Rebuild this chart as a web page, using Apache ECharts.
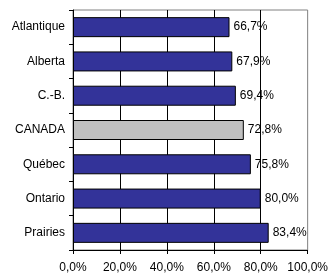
<!DOCTYPE html>
<html>
<head>
<meta charset="utf-8">
<script src="https://cdn.jsdelivr.net/npm/echarts@6/dist/echarts.min.js"></script>
<style>html,body{margin:0;padding:0;background:#fff}#c{width:331px;height:275px}</style>
</head>
<body>
<div id="c"></div>
<script>
const categories = ['Atlantique', 'Alberta', 'C.-B.', 'CANADA', 'Québec', 'Ontario', 'Prairies'];
const values = [66.7, 67.9, 69.4, 72.8, 75.8, 80.0, 83.4];
const highlight = 'CANADA';

const fmt = v => v.toFixed(1).replace('.', ',') + '%';
const font = 'Liberation Sans, Arial, sans-serif';

const chart = echarts.init(document.getElementById('c'), null, {renderer: 'canvas'});
chart.setOption({
  animation: false,
  grid: {left: 73, right: 21, top: 10, bottom: 25, show: true, borderColor: '#808080', borderWidth: 1, backgroundColor: 'transparent'},
  xAxis: {
    type: 'value', min: 0, max: 100, interval: 20,
    axisLine: {show: true, lineStyle: {color: '#000', width: 1}},
    axisTick: {show: true, length: 4, lineStyle: {color: '#000'}},
    axisLabel: {formatter: v => fmt(v), color: '#000', fontSize: 12, fontFamily: font, margin: 12},
    splitLine: {show: true, showMinLine: false, showMaxLine: false, lineStyle: {color: '#000', width: 1}}
  },
  yAxis: {
    type: 'category', data: categories, inverse: true,
    axisLine: {show: true, lineStyle: {color: '#000', width: 1}},
    axisTick: {show: true, length: 4, alignWithLabel: false, lineStyle: {color: '#000'}},
    axisLabel: {color: '#000', fontSize: 12, fontFamily: font, margin: 8},
    splitLine: {show: false}
  },
  series: [{
    type: 'bar',
    barWidth: 20,
    data: values.map((v, i) => ({
      value: v,
      itemStyle: {color: categories[i] === highlight ? '#c0c0c0' : '#333399', borderColor: '#000', borderWidth: 1}
    })),
    label: {show: true, position: 'right', distance: 4, formatter: p => fmt(p.value), color: '#000', fontSize: 12, fontFamily: font}
  }]
});
</script>
</body>
</html>
